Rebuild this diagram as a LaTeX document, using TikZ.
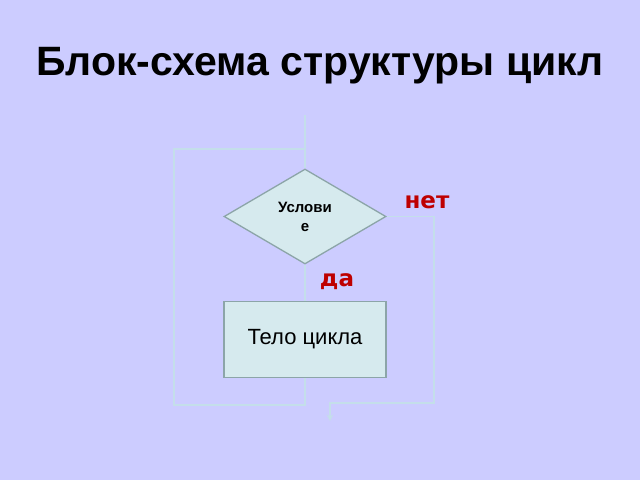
\documentclass[tikz,border=0pt]{standalone}
\usepackage{fontspec}
\setmainfont{Liberation Sans}
\newfontfamily\answerfont{DejaVu Sans}
\usepackage{tikz}
\usetikzlibrary{shapes.geometric}
\usetikzlibrary{arrows}
\usetikzlibrary{positioning}
\definecolor{bg}{RGB}{204,204,255}
\definecolor{blockfill}{RGB}{214,234,238}
\definecolor{blockline}{RGB}{140,165,168}
\definecolor{wire}{RGB}{196,222,234}
\definecolor{answer}{RGB}{190,0,0}
\tikzset{
	myflow/.style = {
		>=stealth, x=1pt, y=-1pt, node distance=36pt,
	},
	cond/.style = {
		diamond, draw=blockline, fill=blockfill, line width=1.3pt,
		minimum width=162pt, minimum height=95pt, inner sep=0pt,
		align=center, font=\fontsize{15}{19}\selectfont\bfseries,
	},
	block/.style = {
		rectangle, draw=blockline, fill=blockfill, line width=1.3pt,
		minimum width=162pt, minimum height=76pt,
		font=\fontsize{22}{26}\selectfont,
	},
	wire/.style = {draw=wire, line width=1.8pt},
	answer/.style = {text=answer, font=\answerfont\fontsize{23}{26}\selectfont\bfseries},
}

\begin{document}
\begin{tikzpicture}[myflow]
		\fill[bg] (0,0) rectangle (640,480);
		\useasboundingbox (0,0) rectangle (640,480);
		
		\node[font=\fontsize{41}{46}\selectfont\bfseries, anchor=base] (title) at (320,75) {Блок-схема структуры цикл};
		
		\node[cond] (if) at (305,216.5) {Услови\\е};
		\node[block] (body) [below=of if] {Тело цикла};
		\node[answer, anchor=base] (no) at (427,208) {нет};
		\node[answer, anchor=base] (yes) at (337,286) {да};
		
		\coordinate (start) at (305,115);
		\coordinate (lbot) at (174,405);
		\coordinate (ltop) at (174,149);
		\coordinate (rbot) at (434,403);
		\coordinate (exit) at (330,421);
		
		\draw[wire] (start) -- (if.north);
		\draw[wire] (if.south) -- (body.north);
		\draw[wire] (body.south) |- (lbot) -- (ltop) -- (ltop -| start);
		\draw[wire, ->] (if.east) -| (rbot) -| (exit);
	\end{tikzpicture}
\end{document}
